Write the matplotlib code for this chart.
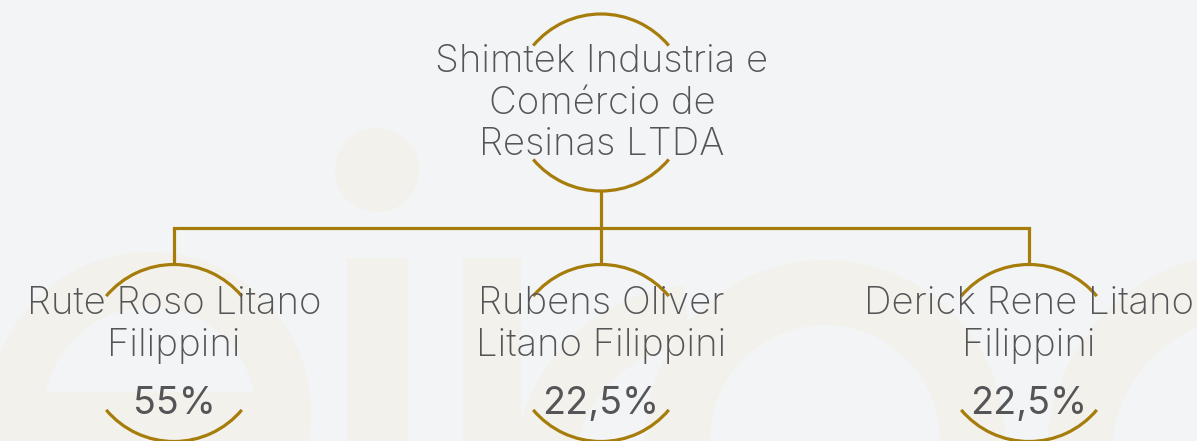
import matplotlib
matplotlib.use("Agg")
import matplotlib.pyplot as plt
from matplotlib.patches import Arc, Circle, Rectangle, Polygon
import numpy as np

# ---- data ----
root_lines = ["Shimtek Industria e", "Comércio de", "Resinas LTDA"]
child_lines = [["Rute Roso Litano", "Filippini"],
               ["Rubens Oliver", "Litano Filippini"],
               ["Derick Rene Litano", "Filippini"]]
child_shares = ["55%", "22,5%", "22,5%"]

W, H = 1197, 441
BG = "#f3f4f6"
WM = "#f2f1ec"
GOLD = "#a67c0a"
TXT = "#555557"
FONT = "Inter"

fig = plt.figure(figsize=(W / 100, H / 100), dpi=100)
fig.patch.set_facecolor(BG)
ax = fig.add_axes([0, 0, 1, 1])
ax.set_xlim(0, W)
ax.set_ylim(H, 0)
ax.axis("off")
ax.set_facecolor(BG)


def ring(cx, cy, ro, ri, a0, a1, color, z=0.2):
    # display angles (counter-clockwise on screen), y axis is inverted
    t = np.radians(np.linspace(a0, a1, 120))
    xo = cx + ro * np.cos(t)
    yo = cy - ro * np.sin(t)
    xi = cx + ri * np.cos(t[::-1])
    yi = cy - ri * np.sin(t[::-1])
    pts = np.column_stack([np.r_[xo, xi], np.r_[yo, yi]])
    ax.add_patch(Polygon(pts, closed=True, color=color, lw=0, zorder=z))


# faint watermark letters
# "e"
ax.add_patch(Circle((150, 413), 161, color=WM, lw=0, zorder=0.2))
t = np.radians(np.linspace(0, 360, 240))
ex, ey = 150 + 106 * np.cos(t), 413 - 106 * np.sin(t)
ey = np.minimum(ey, 392)
ax.add_patch(Polygon(np.column_stack([ex, ey]), closed=True, color=BG, lw=0, zorder=0.3))
# "i"
ax.add_patch(Rectangle((347, 258), 61, 200, color=WM, lw=0, zorder=0.2))
ax.add_patch(Circle((377, 170), 42, color=WM, lw=0, zorder=0.2))
# "r"
ax.add_patch(Rectangle((463, 258), 58, 200, color=WM, lw=0, zorder=0.2))
ring(700, 470, 185, 125, 95, 185, WM)
# "o"
ring(825, 440, 180, 115, 0, 360, WM)
# "s"
ring(1250, 455, 203, 138, 95, 200, WM)

R = 88.5
LW = 2.3


def node(cx, cy, r):
    ax.add_patch(Arc((cx, cy), 2 * r, 2 * r, theta1=220, theta2=320, color=GOLD, lw=LW, zorder=3))
    ax.add_patch(Arc((cx, cy), 2 * r, 2 * r, theta1=40, theta2=140, color=GOLD, lw=LW, zorder=3))


# root
root_x, root_y = 601, 102.5
node(root_x, root_y, R)
for i, line in enumerate(root_lines):
    ax.text(root_x + 1, 72 + i * 41.5, line, ha="center", va="baseline", fontsize=27.6,
            family=FONT, fontweight="light", color=TXT, zorder=4)

# children
child_x = [174, 601, 1029]
child_y = 353
bar_y = 228
ax.plot([root_x, root_x], [root_y + R, bar_y], color=GOLD, lw=LW, zorder=2, solid_capstyle="butt")
ax.plot([child_x[0], child_x[-1]], [bar_y, bar_y], color=GOLD, lw=LW, zorder=2, solid_capstyle="projecting")
for x, lines, share in zip(child_x, child_lines, child_shares):
    ax.plot([x, x], [bar_y, child_y - R], color=GOLD, lw=LW, zorder=2, solid_capstyle="butt")
    node(x, child_y, R)
    for i, line in enumerate(lines):
        ax.text(x, 314 + i * 41.5, line, ha="center", va="baseline", fontsize=27.6,
                family=FONT, fontweight="light", color=TXT, zorder=4)
    ax.text(x, 414, share, ha="center", va="baseline", fontsize=27.2, family=FONT,
            fontweight="normal", color=TXT, zorder=4)

fig.savefig("out.png", dpi=100, facecolor=BG)
